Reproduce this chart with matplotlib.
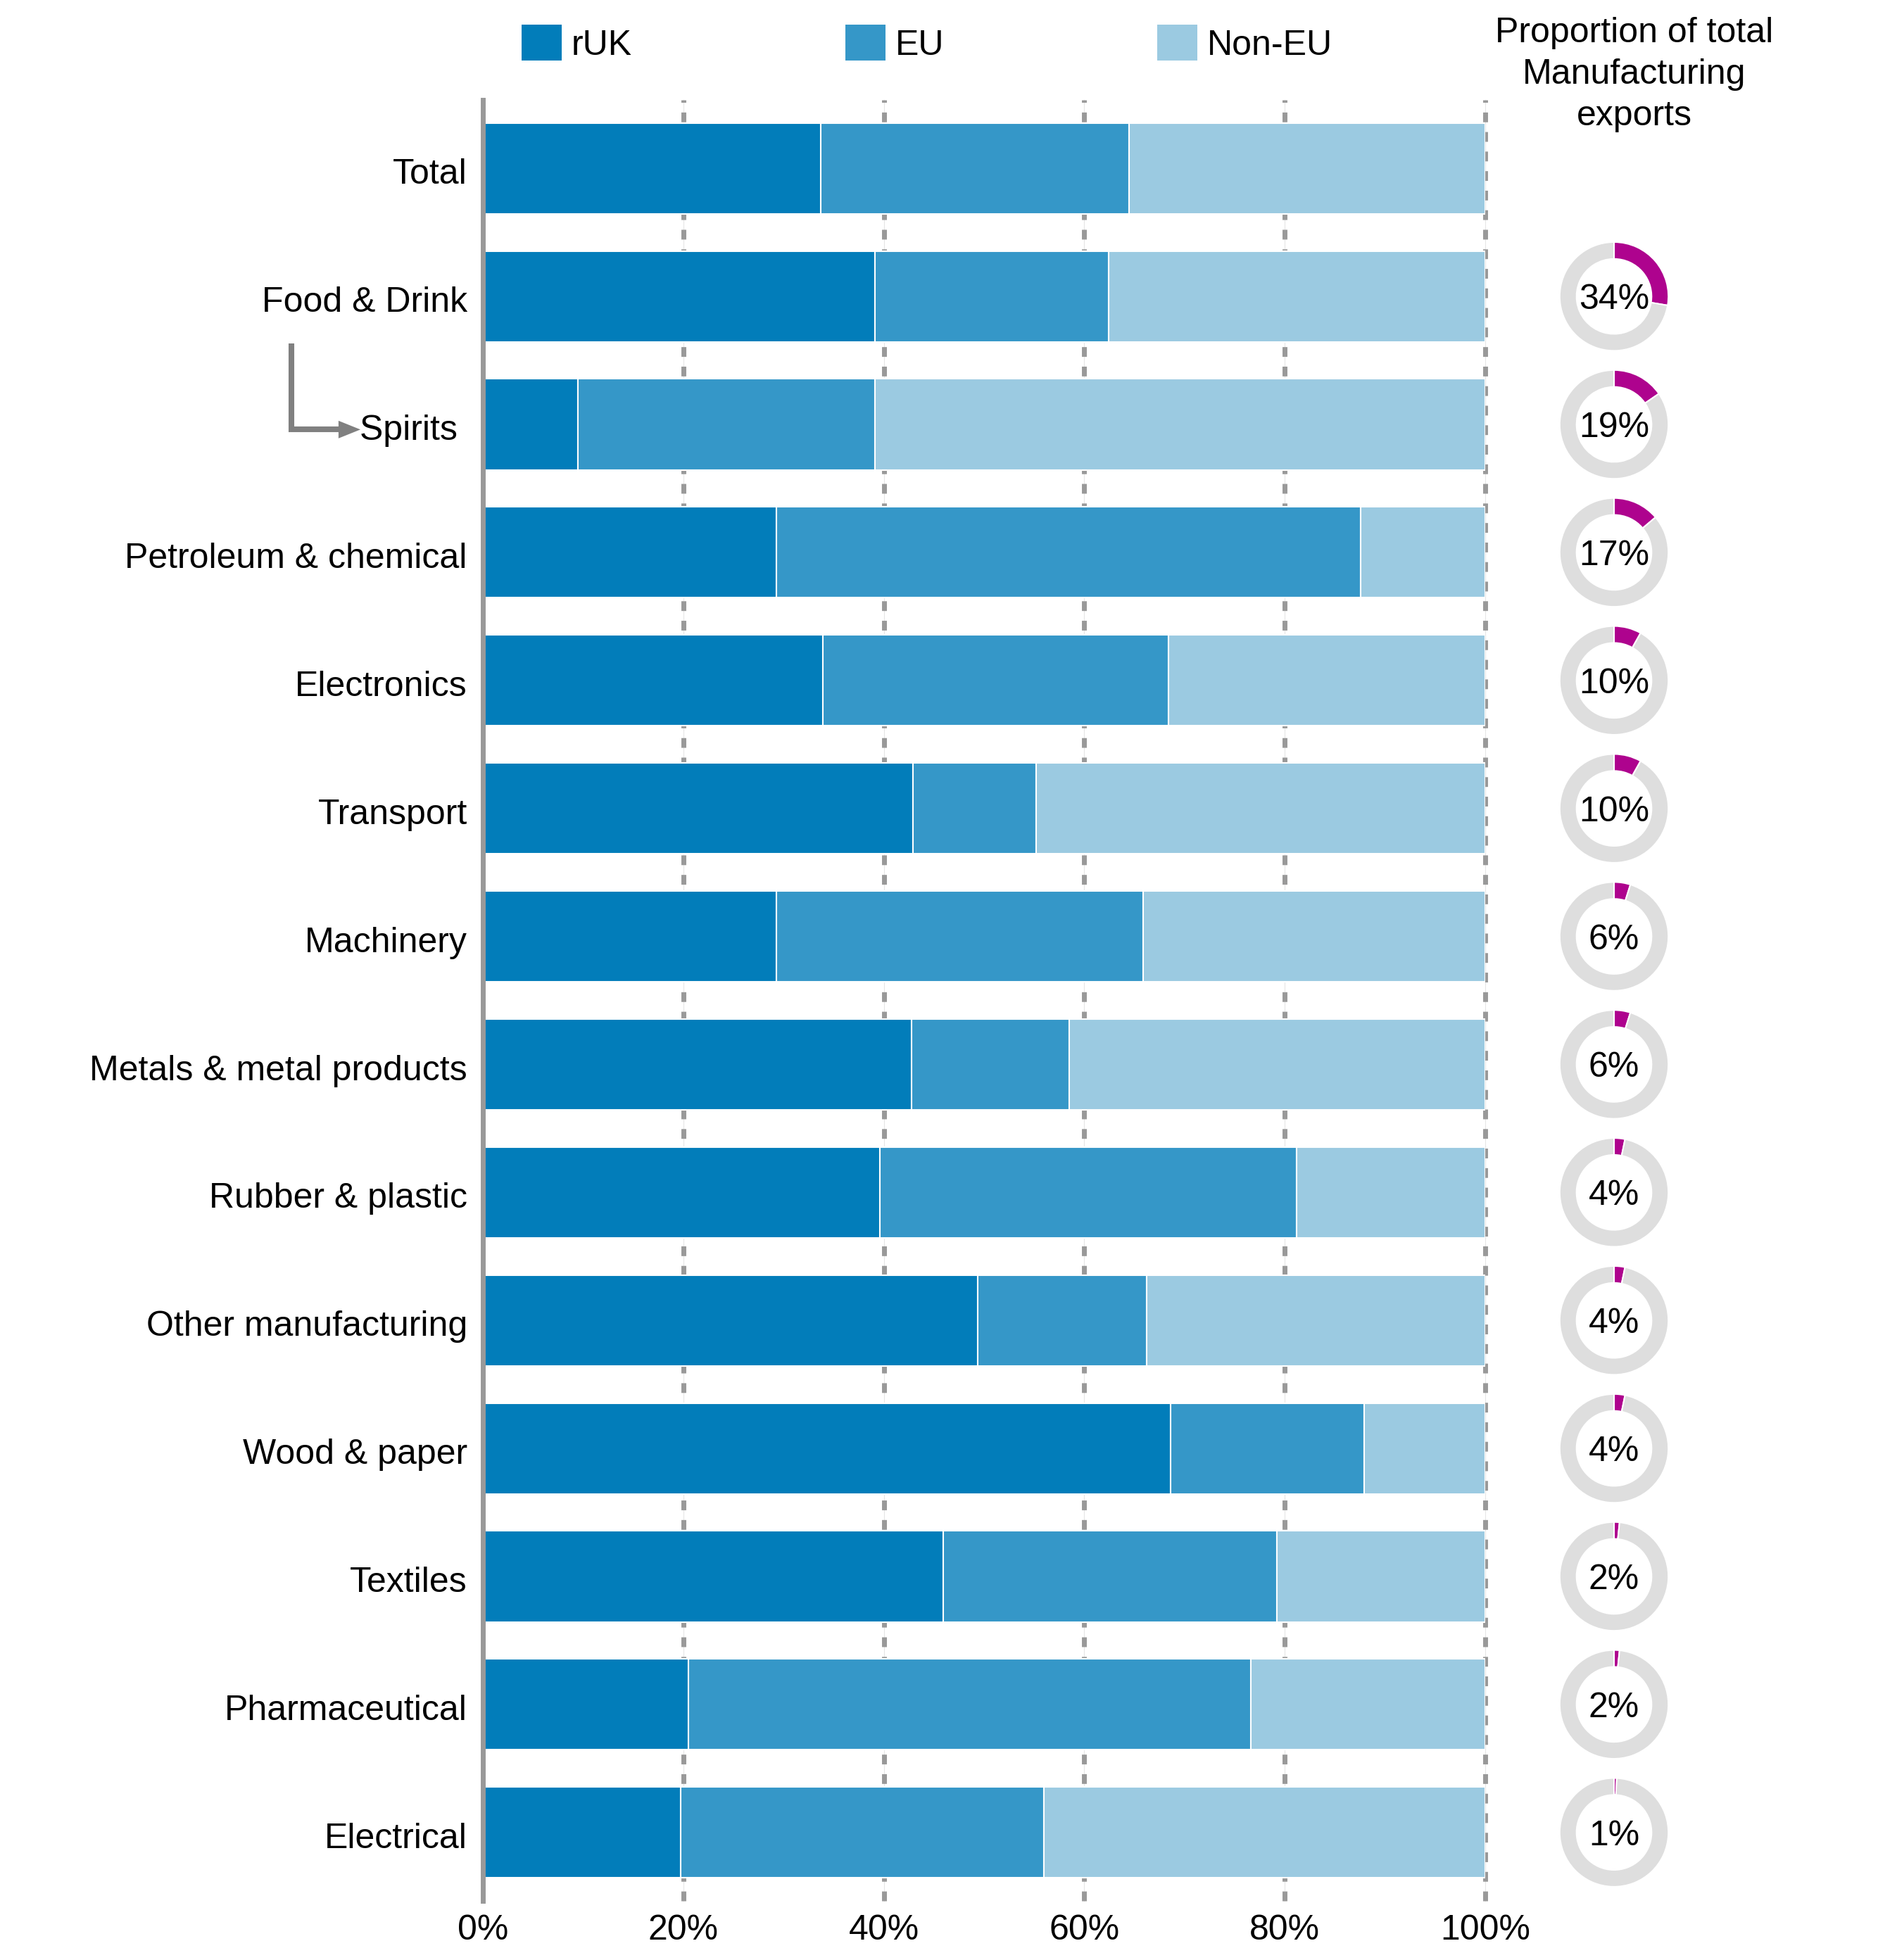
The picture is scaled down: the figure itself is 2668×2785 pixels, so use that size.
import matplotlib
matplotlib.use("Agg")
import matplotlib.pyplot as plt
import matplotlib.transforms as mtransforms
from matplotlib.patches import Patch
import numpy as np

# ---------------- data ----------------
categories = ["Total", "Food & Drink", "Spirits ", "Petroleum & chemical", "Electronics",
              "Transport", "Machinery", "Metals & metal products", "Rubber & plastic",
              "Other manufacturing", "Wood & paper", "Textiles", "Pharmaceutical", "Electrical"]
ruk = [33.7, 39.1, 9.5, 29.3, 33.9, 42.9, 29.3, 42.8, 39.6, 49.4, 68.6, 45.9, 20.5, 19.7]
eu = [30.8, 23.3, 29.6, 58.3, 34.5, 12.3, 36.6, 15.7, 41.6, 16.8, 19.3, 33.3, 56.1, 36.3]
non_eu = [35.5, 37.6, 60.9, 12.4, 31.6, 44.8, 34.1, 41.5, 18.8, 33.8, 12.1, 20.8, 23.4, 44.0]
series_names = ["rUK", "EU", "Non-EU"]

share_values = [None, 34, 19, 17, 10, 10, 6, 6, 4, 4, 4, 2, 2, 1]
share_labels = ["", "34%", "19%", "17%", "10%", "10%", "6%", "6%", "4%", "4%", "4%", "2%", "2%", "1%"]
donut_full_scale = 123  # a full ring in the reference corresponds to ~123%

x_ticks = [0, 20, 40, 60, 80, 100]
x_tick_labels = ["0%", "20%", "40%", "60%", "80%", "100%"]
donut_title = "Proportion of total\nManufacturing\nexports"

# ---------------- style ----------------
plt.rcParams['font.family'] = ['Liberation Sans', 'DejaVu Sans']
FS = 36
colors = ["#027DBA", "#3597C8", "#9BCAE1"]
magenta = "#AE038E"
ring_grey = "#DEDEDE"
axis_grey = "#999999"

W, H = 2668, 2785
DPI = 100
fig = plt.figure(figsize=(W / DPI, H / DPI), dpi=DPI)
ax = fig.add_axes([686 / W, 1 - 2701 / H, (2110 - 686) / W, (2701 - 142) / H])

y = np.arange(len(categories))
left = np.zeros(len(categories))
for vals, c, name in zip([ruk, eu, non_eu], colors, series_names):
    ax.barh(y, vals, left=left, height=0.71, color=c, edgecolor="white",
            linewidth=1.5, label=name, zorder=2)
    left = left + np.array(vals)

ax.set_xlim(0, 100)
ax.set_ylim(len(categories) - 1 + 0.535, -0.535)
ax.set_yticks(y, categories)
ax.set_xticks(x_ticks, x_tick_labels)
ax.tick_params(axis="both", length=0, labelsize=FS, colors="black")
ax.tick_params(axis="y", pad=16)
ax.tick_params(axis="x", pad=14)
# nudge category labels slightly down, as in the reference
offset = mtransforms.ScaledTranslation(0, -3 / 72, fig.dpi_scale_trans)
for lbl in ax.get_yticklabels():
    lbl.set_transform(lbl.get_transform() + offset)
for s in ["top", "right", "bottom"]:
    ax.spines[s].set_visible(False)
ax.spines["left"].set_color(axis_grey)
ax.spines["left"].set_linewidth(5)
ax.spines["left"].set_zorder(3)

for xv in x_ticks[1:]:
    ax.axvline(xv, color="#E6E6E6", lw=0.8, zorder=0, clip_on=False)
    ax.axvline(xv, color=axis_grey, lw=5, dashes=(2, 2), zorder=1, clip_on=False)

# ---------------- legend ----------------
handles = [Patch(facecolor=c, edgecolor="none") for c in colors]
fig.legend(handles, series_names, loc="upper left", bbox_to_anchor=(741 / W, 1 - 35 / H),
           ncol=3, frameon=False, fontsize=FS, handlelength=1.14, handleheight=1.2,
           handletextpad=0.28, columnspacing=6.05, borderpad=0, borderaxespad=0)

# ---------------- donut title ----------------
fig.text(2322 / W, 1 - 24 / H, donut_title, ha="center", va="top", fontsize=FS, linespacing=1.36)

# ---------------- donuts ----------------
inv = fig.transFigure.inverted()
donut_cx = 2293 / W
r_px = 78
for i, v in enumerate(share_values):
    if v is None:
        continue
    _, yc = inv.transform(ax.transData.transform((0, i)))
    dax = fig.add_axes([donut_cx - r_px / W, yc - r_px / H, 2 * r_px / W, 2 * r_px / H])
    dax.pie([v, donut_full_scale - v], colors=[magenta, ring_grey], startangle=90,
            counterclock=False, radius=1,
            wedgeprops=dict(width=0.31, edgecolor="white", linewidth=1.5))
    dax.set_xlim(-1.01, 1.01)
    dax.set_ylim(-1.01, 1.01)
    dax.text(0, 0, share_labels[i], ha="center", va="center_baseline", fontsize=FS)

# ---------------- arrow from Food & Drink to Spirits ----------------
blend = mtransforms.blended_transform_factory(fig.transFigure, ax.transData)
food_i, spirits_i = 1, 2
arrow_grey = "#808080"
ax.plot([414 / W, 414 / W, 483 / W], [food_i + 0.37, spirits_i + 0.04, spirits_i + 0.04],
        transform=blend, color=arrow_grey, lw=5.8, clip_on=False,
        solid_joinstyle="miter", solid_capstyle="butt")
ax.annotate("", xy=(512 / W, spirits_i + 0.04), xytext=(478 / W, spirits_i + 0.04),
            xycoords=blend, textcoords=blend, annotation_clip=False,
            arrowprops=dict(arrowstyle="-|>,head_length=1.12,head_width=0.45",
                            color=arrow_grey, lw=0, shrinkA=0, shrinkB=0, mutation_scale=20))

fig.savefig("out.png", dpi=DPI, facecolor="white")
